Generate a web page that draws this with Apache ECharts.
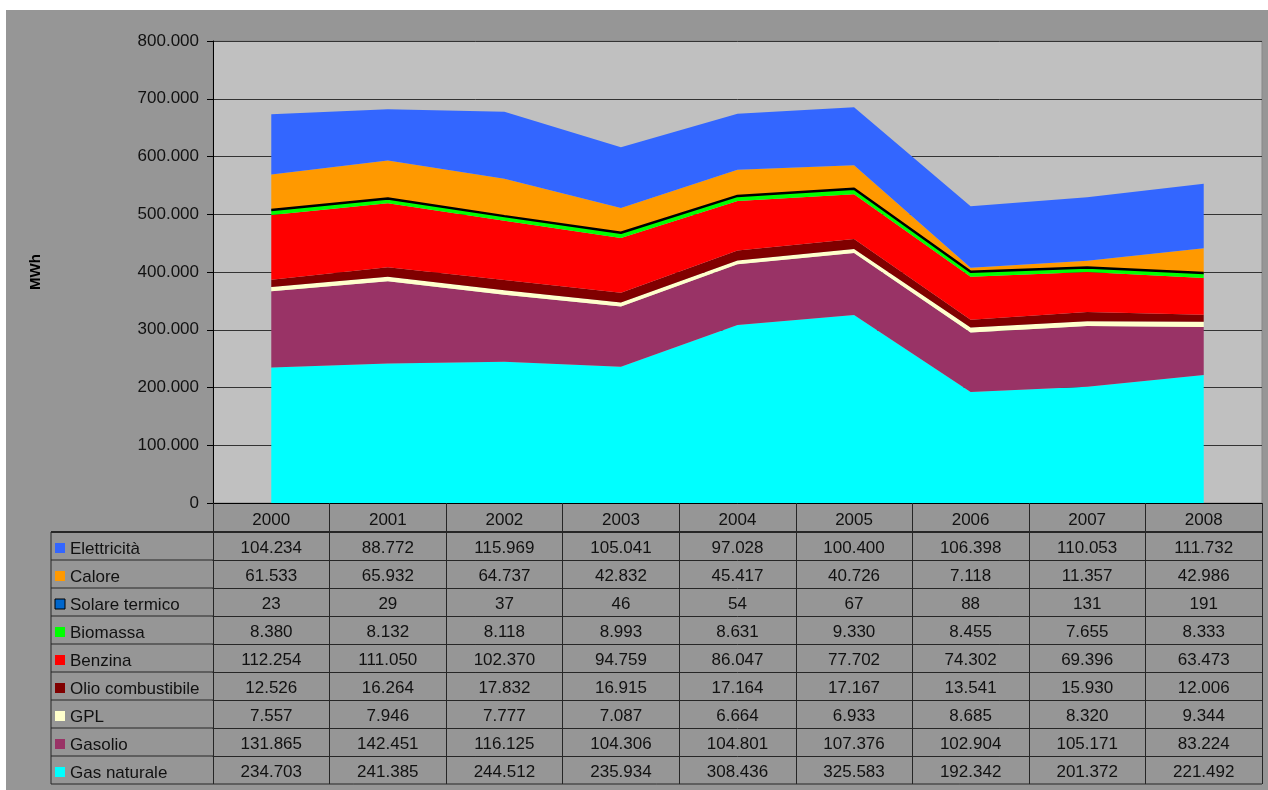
<!DOCTYPE html>
<html lang="it">
    <head>
        <meta charset="UTF-8" />
        <title>Consumi energetici per vettore</title>
        <script src="https://cdn.jsdelivr.net/npm/echarts@6.0.0/dist/echarts.min.js"></script>
        <style>
            body { margin: 0; background: #fff; }
        </style>
    </head>
    <body>
        <div id="main" style="width: 1268px; height: 790px"></div>

        <script>
            // Data (MWh)
            const years = ["2000", "2001", "2002", "2003", "2004", "2005", "2006", "2007", "2008"];
            const elettricita = [104234, 88772, 115969, 105041, 97028, 100400, 106398, 110053, 111732];
            const calore = [61533, 65932, 64737, 42832, 45417, 40726, 7118, 11357, 42986];
            const solareTermico = [23, 29, 37, 46, 54, 67, 88, 131, 191];
            const biomassa = [8380, 8132, 8118, 8993, 8631, 9330, 8455, 7655, 8333];
            const benzina = [112254, 111050, 102370, 94759, 86047, 77702, 74302, 69396, 63473];
            const olioCombustibile = [12526, 16264, 17832, 16915, 17164, 17167, 13541, 15930, 12006];
            const gpl = [7557, 7946, 7777, 7087, 6664, 6933, 8685, 8320, 9344];
            const gasolio = [131865, 142451, 116125, 104306, 104801, 107376, 102904, 105171, 83224];
            const gasNaturale = [234703, 241385, 244512, 235934, 308436, 325583, 192342, 201372, 221492];
            const yTicks = [0, 100000, 200000, 300000, 400000, 500000, 600000, 700000, 800000];

            // table rows, top to bottom (same order as the data table)
            const rows = [
                { name: "Elettricità", data: elettricita, color: "#3366ff" },
                { name: "Calore", data: calore, color: "#ff9900" },
                { name: "Solare termico", data: solareTermico, color: "#0066cc", border: "#000" },
                { name: "Biomassa", data: biomassa, color: "#00ff00" },
                { name: "Benzina", data: benzina, color: "#ff0000" },
                { name: "Olio combustibile", data: olioCombustibile, color: "#800000" },
                { name: "GPL", data: gpl, color: "#ffffcc" },
                { name: "Gasolio", data: gasolio, color: "#993366" },
                { name: "Gas naturale", data: gasNaturale, color: "#00ffff" }
            ];

            const FONT = "'Liberation Sans', Arial, sans-serif";
            const fmt = (n) => String(n).replace(/\B(?=(\d{3})+(?!\d))/g, ".");

            // layout
            const plotLeft = 213, plotRight = 1262, plotTop = 41, plotBottom = 503;
            const headerH = 29, rowH = 28;
            const tableLeft = 51;
            const tableTop = plotBottom + headerH;
            const tableBottom = tableTop + rowH * rows.length;
            const lineColor = "#262626";

            let myChart = echarts.init(document.getElementById("main"));

            // main category axis (years, header row) + one axis per table row
            const xAxes = [
                {
                    type: "category",
                    data: years,
                    boundaryGap: true,
                    position: "bottom",
                    axisLine: { lineStyle: { color: "#000", width: 1 } },
                    axisTick: { show: true, interval: 0, length: headerH, lineStyle: { color: lineColor } },
                    axisLabel: { interval: 0, margin: 9, fontSize: 17, color: "#111", fontFamily: FONT }
                }
            ];
            rows.forEach((r, i) => {
                xAxes.push({
                    type: "category",
                    data: r.data.map(fmt),
                    boundaryGap: true,
                    position: "bottom",
                    offset: headerH + rowH * i,
                    axisLine: { show: true, lineStyle: { color: lineColor, width: i === 0 ? 2 : 1 } },
                    axisTick: { show: true, interval: 0, length: rowH, lineStyle: { color: lineColor } },
                    axisLabel: { interval: 0, margin: 8, fontSize: 17, color: "#111", fontFamily: FONT },
                    splitLine: { show: false }
                });
            });

            // stacked series: bottom of stack first
            const series = rows
                .slice()
                .reverse()
                .map((r) => ({
                    name: r.name,
                    type: "line",
                    stack: "tot",
                    symbol: "none",
                    z: r.border ? 3 : 2,
                    data: r.data,
                    lineStyle: r.border ? { width: 2.5, color: r.border } : { width: 0 },
                    itemStyle: { color: r.color },
                    areaStyle: { color: r.color, opacity: 1 }
                }));

            // label column of the table
            const graphics = [
                { type: "rect", shape: { x: 0, y: 0, width: 1268, height: 10 }, style: { fill: "#fff" }, silent: true },
                { type: "rect", shape: { x: 0, y: 0, width: 6, height: 790 }, style: { fill: "#fff" }, silent: true },
                {
                    type: "line",
                    shape: { x1: tableLeft, y1: tableTop, x2: tableLeft, y2: tableBottom },
                    style: { stroke: lineColor, lineWidth: 1 }
                },
                {
                    type: "line",
                    shape: { x1: tableLeft, y1: tableBottom, x2: plotRight, y2: tableBottom },
                    style: { stroke: lineColor, lineWidth: 1 }
                }
            ];
            rows.forEach((r, i) => {
                const yTop = tableTop + rowH * i;
                graphics.push({
                    type: "line",
                    shape: { x1: tableLeft, y1: yTop, x2: plotLeft, y2: yTop },
                    style: { stroke: lineColor, lineWidth: i === 0 ? 2 : 1 }
                });
                graphics.push({
                    type: "rect",
                    shape: { x: 55, y: yTop + 11, width: 10, height: 10 },
                    style: { fill: r.color, stroke: r.border || null, lineWidth: r.border ? 1 : 0 }
                });
                graphics.push({
                    type: "text",
                    x: 70,
                    y: yTop + rowH / 2 + 3,
                    style: {
                        text: r.name,
                        font: "17px " + FONT,
                        fill: "#111",
                        align: "left",
                        verticalAlign: "middle"
                    }
                });
            });

            let options = {
                backgroundColor: "#969696",
                animation: false,
                grid: {
                    left: plotLeft,
                    right: 1268 - plotRight,
                    top: plotTop,
                    bottom: 790 - plotBottom,
                    show: true,
                    backgroundColor: "#c0c0c0",
                    borderColor: "#888",
                    borderWidth: 1
                },
                xAxis: xAxes,
                yAxis: {
                    type: "value",
                    min: yTicks[0],
                    max: yTicks[yTicks.length - 1],
                    interval: yTicks[1] - yTicks[0],
                    name: "MWh",
                    nameLocation: "middle",
                    nameGap: 170,
                    nameRotate: 90,
                    nameTextStyle: { fontSize: 15, fontWeight: "bold", color: "#000", fontFamily: FONT },
                    axisLine: { show: true, lineStyle: { color: "#000" } },
                    axisTick: { show: true, length: 6, lineStyle: { color: "#000" } },
                    axisLabel: { formatter: (v) => fmt(v), margin: 14, fontSize: 17, color: "#111", fontFamily: FONT },
                    splitLine: { show: true, lineStyle: { color: "#333", width: 1 } }
                },
                series: series,
                graphic: graphics
            };

            myChart.setOption(options);
        </script>
    </body>
</html>
